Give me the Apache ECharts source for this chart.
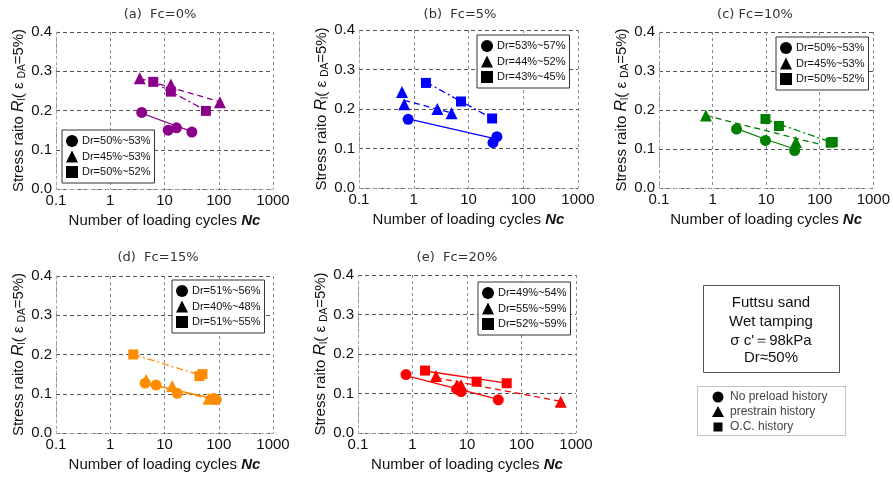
<!DOCTYPE html>
<html>
<head>
<meta charset="utf-8">
<title>Futtsu sand - stress ratio vs loading cycles</title>
<script src="https://cdn.jsdelivr.net/npm/echarts@6.0.0/dist/echarts.min.js"></script>
<style>
  html, body { margin: 0; padding: 0; background: #fff; }
  #chart { width: 893px; height: 479px; }
</style>
</head>
<body>
<div id="chart"></div>
<script>
// panel titles and legend labels
const panelTitles = ['(a)  Fc=0%', '(b)  Fc=5%', '(c) Fc=10%', '(d)  Fc=15%', '(e)  Fc=20%'];
const legendLabels = [
  ['Dr=50%~53%', 'Dr=45%~53%', 'Dr=50%~52%'],
  ['Dr=53%~57%', 'Dr=44%~52%', 'Dr=43%~45%'],
  ['Dr=50%~53%', 'Dr=45%~53%', 'Dr=50%~52%'],
  ['Dr=51%~56%', 'Dr=40%~48%', 'Dr=51%~55%'],
  ['Dr=49%~54%', 'Dr=55%~59%', 'Dr=52%~59%']
];
const xTicks = [0.1, 1, 10, 100, 1000];
const yTicks = [0, 0.1, 0.2, 0.3, 0.4];

// [Nc, stress ratio] : circle = no preload, triangle = prestrain, square = O.C.
const aCircle = [[3.8, 0.195], [11.7, 0.150], [16.6, 0.156], [32, 0.145]];
const aTriangle = [[3.5, 0.282], [13.1, 0.266], [105, 0.221]];
const aSquare = [[6.2, 0.273], [13.1, 0.248], [58, 0.199]];
const aCircleFit = [[3.8, 0.193], [32, 0.146]];
const aTriangleFit = [[3.5, 0.282], [105, 0.222]];
const aSquareFit = [[6.2, 0.272], [58, 0.200]];

const bCircle = [[0.79, 0.174], [28, 0.115], [33, 0.130]];
const bTriangle = [[0.61, 0.243], [0.67, 0.212], [2.7, 0.200], [4.9, 0.189]];
const bSquare = [[1.67, 0.266], [7.3, 0.219], [27, 0.176]];
const bCircleFit = [[0.79, 0.175], [30, 0.125]];
const bTriangleFit = [[0.67, 0.222], [4.9, 0.190]];
const bSquareFit = [[1.67, 0.268], [27, 0.176]];

const cCircle = [[2.8, 0.151], [9.7, 0.122], [34, 0.096]];
const cTriangle = [[0.75, 0.186], [36, 0.118]];
const cSquare = [[9.7, 0.177], [17.3, 0.159], [160, 0.116], [175, 0.118]];
const cCircleFit = [[2.8, 0.152], [9.7, 0.125], [34, 0.100]];
const cTriangleFit = [[0.75, 0.186], [100, 0.112]];
const cSquareFit = [[9.7, 0.176], [175, 0.116]];

const dCircle = [[4.4, 0.127], [7.0, 0.122], [17.2, 0.101], [80, 0.088], [90, 0.085]];
const dTriangle = [[4.6, 0.135], [13.9, 0.120], [65, 0.087]];
const dSquare = [[2.66, 0.200], [44, 0.145], [50, 0.150]];
const dCircleFit = [[4.4, 0.127], [90, 0.086]];
const dTriangleFit = [[4.6, 0.125], [65, 0.088]];
const dSquareFit = [[2.66, 0.200], [47, 0.147]];

const eCircle = [[0.76, 0.148], [6.5, 0.111], [7.8, 0.105], [37.5, 0.084]];
const eTriangle = [[2.7, 0.144], [6.5, 0.120], [7.8, 0.121], [525, 0.079]];
const eSquare = [[1.7, 0.158], [15, 0.130], [53.5, 0.126]];
const eCircleFit = [[0.76, 0.145], [37.5, 0.085]];
const eTriangleFit = [[2.7, 0.140], [525, 0.080]];
const eSquareFit = [[1.7, 0.157], [53.5, 0.126]];

const panelPoints = [
  [aCircle, aTriangle, aSquare],
  [bCircle, bTriangle, bSquare],
  [cCircle, cTriangle, cSquare],
  [dCircle, dTriangle, dSquare],
  [eCircle, eTriangle, eSquare]
];
const panelFits = [
  [aCircleFit, aTriangleFit, aSquareFit],
  [bCircleFit, bTriangleFit, bSquareFit],
  [cCircleFit, cTriangleFit, cSquareFit],
  [dCircleFit, dTriangleFit, dSquareFit],
  [eCircleFit, eTriangleFit, eSquareFit]
];

// styles / layout
const colors = ['#8B008B', '#0000FF', '#008000', '#FF8C00', '#FF0000'];
const symbols = ['circle', 'triangle', 'rect'];
const symbolSizes = [11, 12, 10];
const fitTypes = ['solid', [6, 4], [7, 3, 2, 3]];
const fitTypesE = ['solid', [6, 4], 'solid'];
const grids = [
  { left: 56, top: 32, width: 217, height: 157 },
  { left: 359, top: 30, width: 219, height: 158 },
  { left: 659, top: 32, width: 215, height: 156 },
  { left: 56, top: 276, width: 217, height: 157 },
  { left: 358, top: 275, width: 218, height: 158 }
];
const yNameGaps = [29, 22, 22, 25, 26];
const legendPos = [
  { left: 62, top: 130 }, { left: 477, top: 35 }, { left: 776, top: 37 },
  { left: 172, top: 280 }, { left: 478, top: 282 }
];
const titlePos = [[160, 15], [460, 15], [755, 15], [158, 258], [457, 258]];
const FONT = 'Liberation Sans, Arial, sans-serif';

const option = {
  animation: false,
  backgroundColor: '#fff',
  grid: grids.map((g) => Object.assign({ containLabel: false }, g)),
  xAxis: grids.map((g, i) => ({
    type: 'log',
    logBase: 10,
    gridIndex: i,
    min: xTicks[0],
    max: xTicks[xTicks.length - 1],
    name: '{n|Number of loading cycles }{b|Nc}',
    nameLocation: 'middle',
    nameGap: 24,
    nameTextStyle: {
      rich: {
        n: { fontSize: 15, fontFamily: FONT, color: '#111' },
        b: { fontSize: 15, fontFamily: FONT, fontStyle: 'italic', fontWeight: 'bold', color: '#111' }
      }
    },
    axisLine: { show: true, lineStyle: { color: '#aaa', type: [2, 3] } },
    axisTick: { show: false },
    axisLabel: {
      fontSize: 15, fontFamily: FONT, color: '#111', margin: 4,
      formatter: (v) => String(v)
    },
    splitLine: { show: true, lineStyle: { color: '#888', type: [3, 3], width: 1 } }
  })),
  yAxis: grids.map((g, i) => ({
    type: 'value',
    gridIndex: i,
    min: yTicks[0],
    max: yTicks[yTicks.length - 1],
    interval: 0.1,
    name: '{n|Stress raito }{i|R}{s|l}{n|( ε }{s|DA}{n|=5%)}',
    nameLocation: 'middle',
    nameRotate: 90,
    nameGap: yNameGaps[i],
    nameTextStyle: {
      rich: {
        n: { fontSize: 15, fontFamily: FONT, color: '#111', lineHeight: 17 },
        i: { fontSize: 16, fontFamily: FONT, fontStyle: 'italic', color: '#111', lineHeight: 17 },
        s: { fontSize: 10, fontFamily: FONT, color: '#111', lineHeight: 10, verticalAlign: 'bottom', padding: [7, 0, 0, 0] }
      }
    },
    axisLine: { show: true, lineStyle: { color: '#aaa', type: [2, 3] } },
    axisTick: { show: false },
    axisLabel: {
      fontSize: 15, fontFamily: FONT, color: '#111', margin: 4,
      formatter: (v) => v.toFixed(1)
    },
    splitLine: { show: true, lineStyle: { color: '#555', type: [4, 3], width: 1 } }
  })),
  legend: legendLabels.map((labels, i) => ({
    orient: 'vertical',
    left: legendPos[i].left,
    top: legendPos[i].top,
    selectedMode: false,
    backgroundColor: '#fff',
    borderColor: '#333',
    borderWidth: 1,
    padding: [5, 4, 5, 4],
    itemWidth: 12,
    itemHeight: 12,
    itemGap: 3.5,
    textStyle: { fontSize: 11, fontFamily: FONT, color: '#111', padding: [0, 0, 0, -1] },
    itemStyle: { color: '#000', borderWidth: 0 },
    formatter: (name) => name.split('|')[1],
    data: labels.map((l, k) => ({ name: i + '|' + l, icon: symbols[k] }))
  })),
  series: [],
  graphic: []
};

panelPoints.forEach((sets, i) => {
  sets.forEach((pts, k) => {
    const lt = (i === 4 ? fitTypesE : fitTypes)[k];
    option.series.push({
      name: i + '|' + legendLabels[i][k] + '|fit',
      type: 'line',
      xAxisIndex: i,
      yAxisIndex: i,
      data: panelFits[i][k],
      symbol: 'none',
      smooth: false,
      silent: true,
      lineStyle: { color: colors[i], width: 1.3, type: lt },
      z: 2
    });
    option.series.push({
      name: i + '|' + legendLabels[i][k],
      type: 'scatter',
      xAxisIndex: i,
      yAxisIndex: i,
      data: pts,
      symbol: symbols[k],
      symbolSize: symbolSizes[k],
      itemStyle: { color: colors[i], opacity: 1 },
      z: 3
    });
  });
});

// panel titles
panelTitles.forEach((t, i) => {
  option.graphic.push({
    type: 'text',
    x: titlePos[i][0],
    y: titlePos[i][1],
    style: {
      text: t, fill: '#333', font: '13px "DejaVu Sans", sans-serif',
      textAlign: 'center', textVerticalAlign: 'middle'
    }
  });
});

// conditions box
const infoLines = ['Futtsu sand', 'Wet tamping', 'σ c\'＝98kPa', 'Dr≈50%'];
const infoY = [303, 322, 341, 358];
option.graphic.push({
  type: 'rect', shape: { x: 703.5, y: 285.5, width: 136, height: 87 },
  style: { fill: '#fff', stroke: '#555', lineWidth: 1 }
});
infoLines.forEach((t, k) => {
  option.graphic.push({
    type: 'text', x: 771, y: infoY[k],
    style: { text: t, fill: '#111', font: '15px ' + FONT, textAlign: 'center', textVerticalAlign: 'middle' }
  });
});

// symbol key box
const keyLabels = ['No preload history', 'prestrain history', 'O.C. history'];
const keyY = [397, 412, 427];
option.graphic.push({
  type: 'rect', shape: { x: 697.5, y: 386.5, width: 148, height: 49 },
  style: { fill: '#fff', stroke: '#888', lineWidth: 1, lineDash: [1, 1] }
});
option.graphic.push({ type: 'circle', shape: { cx: 718, cy: keyY[0], r: 5.5 }, style: { fill: '#000' } });
option.graphic.push({
  type: 'polygon',
  shape: { points: [[718, keyY[1] - 6], [724, keyY[1] + 5], [712, keyY[1] + 5]] },
  style: { fill: '#000' }
});
option.graphic.push({ type: 'rect', shape: { x: 713.5, y: keyY[2] - 4.5, width: 9, height: 9 }, style: { fill: '#000' } });
keyLabels.forEach((t, k) => {
  option.graphic.push({
    type: 'text', x: 730, y: keyY[k],
    style: { text: t, fill: '#444', font: '12px ' + FONT, textAlign: 'left', textVerticalAlign: 'middle' }
  });
});

const myChart = echarts.init(document.getElementById('chart'), null, { renderer: 'canvas' });
myChart.setOption(option);
window.addEventListener('resize', () => myChart.resize());
</script>
</body>
</html>
